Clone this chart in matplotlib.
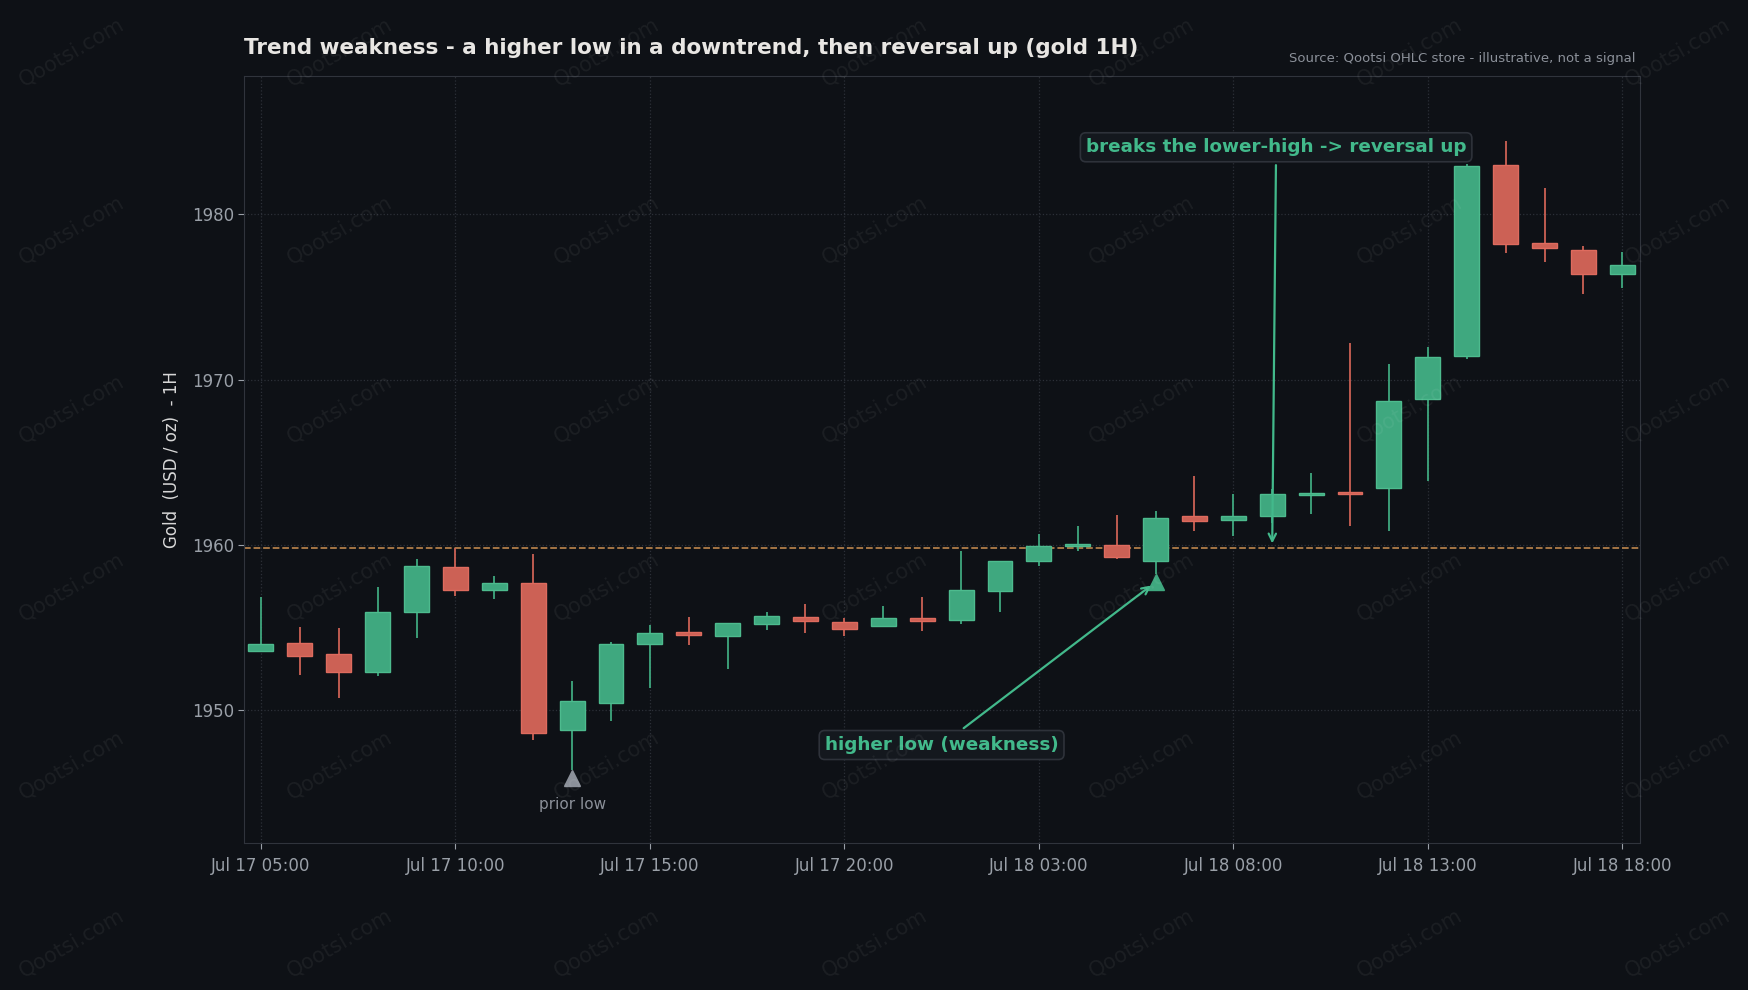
import numpy as np
import matplotlib
matplotlib.use('Agg')
import matplotlib.pyplot as plt

# 黄金1小时K线 (从图上读出的近似数值)
opens  = [1953.59, 1954.08, 1953.41, 1952.33, 1955.94, 1958.65, 1957.27, 1957.69, 1948.78, 1950.46,
          1954.02, 1954.74, 1954.50, 1955.22, 1955.64, 1955.34, 1955.10, 1955.58, 1955.46, 1957.21,
          1959.02, 1959.92, 1959.98, 1959.00, 1961.73, 1961.49, 1961.73, 1963.01, 1963.23, 1963.45,
          1968.84, 1971.43, 1982.95, 1978.29, 1977.83, 1976.39]
highs  = [1956.87, 1955.06, 1955.00, 1957.47, 1959.16, 1959.84, 1958.13, 1959.46, 1951.75, 1954.12,
          1955.18, 1955.66, 1955.30, 1955.96, 1956.45, 1955.60, 1956.33, 1956.87, 1959.64, 1959.05,
          1960.66, 1961.14, 1961.81, 1962.05, 1964.16, 1963.07, 1963.40, 1964.34, 1972.23, 1970.96,
          1971.99, 1983.05, 1984.42, 1981.59, 1978.07, 1977.73]
lows   = [1953.51, 1952.13, 1950.74, 1952.07, 1954.36, 1956.93, 1956.71, 1948.21, 1946.40, 1949.36,
          1951.37, 1953.94, 1952.49, 1954.84, 1954.66, 1954.52, 1955.05, 1954.82, 1955.20, 1955.92,
          1958.70, 1959.66, 1959.14, 1958.25, 1960.86, 1960.54, 1961.30, 1961.89, 1961.16, 1960.84,
          1963.86, 1971.22, 1977.63, 1977.09, 1975.16, 1975.52]
closes = [1954.02, 1953.29, 1952.33, 1955.94, 1958.71, 1957.27, 1957.69, 1948.65, 1950.58, 1954.02,
          1954.68, 1954.56, 1955.28, 1955.70, 1955.40, 1954.92, 1955.58, 1955.40, 1957.27, 1959.02,
          1959.92, 1960.04, 1959.30, 1961.61, 1961.43, 1961.73, 1963.05, 1963.15, 1963.05, 1968.71,
          1971.37, 1982.89, 1978.19, 1977.95, 1976.39, 1976.93]

tick_pos = [0, 5, 10, 15, 20, 25, 30, 35]
tick_labels = ['Jul 17 05:00', 'Jul 17 10:00', 'Jul 17 15:00', 'Jul 17 20:00',
               'Jul 18 03:00', 'Jul 18 08:00', 'Jul 18 13:00', 'Jul 18 18:00']

prior_low_idx = 8
higher_low_idx = 23
lower_high = highs[5]   # 前一个反弹高点
break_idx = 26

bg = '#0e1116'
up_col, up_edge = '#3fa87f', '#4dbb8e'
dn_col, dn_edge = '#cc6155', '#de6b5e'
arrow_col = '#42b98b'

fig = plt.figure(figsize=(17.48, 9.9), dpi=100, facecolor=bg)
ax = fig.add_axes([0.1397, 0.1486, 0.7984, 0.7748])
ax.set_facecolor(bg)

x = np.arange(len(opens))
o = np.array(opens); h = np.array(highs); l = np.array(lows); c = np.array(closes)
up = c >= o
fill = np.where(up, up_col, dn_col)
edge = np.where(up, up_edge, dn_edge)

# 影线
ax.vlines(x, l, h, colors=fill, linewidth=1.3, zorder=2)
# 实体
bottom = np.minimum(o, c)
height = np.maximum(np.abs(c - o), 0.1)
ax.bar(x, height, bottom=bottom, width=0.64, color=fill, edgecolor=edge, linewidth=1.0, zorder=3)

# 下降趋势中的高点水平线
ax.axhline(lower_high, color='#b07d48', linestyle='--', linewidth=1.3, zorder=1)

# 前低 / 更高的低点
ax.plot(prior_low_idx, lows[prior_low_idx] - 0.5, marker='^', markersize=12, color='#8b9099', zorder=4)
ax.text(prior_low_idx, lows[prior_low_idx] - 2.1, 'prior low', color='#8b9099', fontsize=11,
        ha='center', va='center')
hl_y = lows[higher_low_idx] - 0.5
ax.plot(higher_low_idx, hl_y, marker='^', markersize=12, color=up_col, zorder=4)

box = dict(boxstyle='round,pad=0.3', facecolor='#14181e', edgecolor='#2e323a', linewidth=1.2)
ax.annotate('higher low (weakness)', xy=(higher_low_idx, hl_y), xytext=(17.5, 1947.9),
            color=arrow_col, fontsize=13.2, fontweight='bold', ha='center', va='center', bbox=box,
            arrowprops=dict(arrowstyle='->', color=arrow_col, lw=1.6, shrinkA=2, shrinkB=4), zorder=5)
ax.annotate('breaks the lower-high -> reversal up', xy=(break_idx, lower_high + 0.25), xytext=(26.1, 1984.05),
            color=arrow_col, fontsize=13.2, fontweight='bold', ha='center', va='center', bbox=box,
            arrowprops=dict(arrowstyle='->', color=arrow_col, lw=1.6, shrinkA=2, shrinkB=0), zorder=5)

ax.set_xlim(-0.43, 35.45)
ax.set_ylim(1941.98, 1988.37)
ax.set_xticks(tick_pos)
ax.set_xticklabels(tick_labels)
ax.set_yticks([1950, 1960, 1970, 1980])
ax.tick_params(colors='#9aa0a8', labelsize=12, length=4, width=0.8)
ax.tick_params(axis='x', pad=6)
ax.grid(True, color='#2c3038', linestyle=':', linewidth=0.9)
ax.set_axisbelow(True)
for s in ax.spines.values():
    s.set_color('#30343c')
ax.set_ylabel('Gold  (USD / oz)  - 1H', color='#d8d8d8', fontsize=12, labelpad=8)

fig.text(0.1397, 0.9516, 'Trend weakness - a higher low in a downtrend, then reversal up (gold 1H)',
         color='#e8e6e3', fontsize=15.5, fontweight='bold', ha='left', va='center')
fig.text(0.9356, 0.9414, 'Source: Qootsi OHLC store - illustrative, not a signal',
         color='#8b9099', fontsize=9.5, ha='right', va='center')

# 水印
for i in range(7):
    for j in range(6):
        fig.text(0.041 + i * 0.1531, 0.947 - j * 0.18, 'Qootsi.com', color='white', alpha=0.06,
                 fontsize=15, rotation=30, ha='center', va='center', zorder=10)

plt.savefig('out.png', dpi=100, facecolor=bg)
